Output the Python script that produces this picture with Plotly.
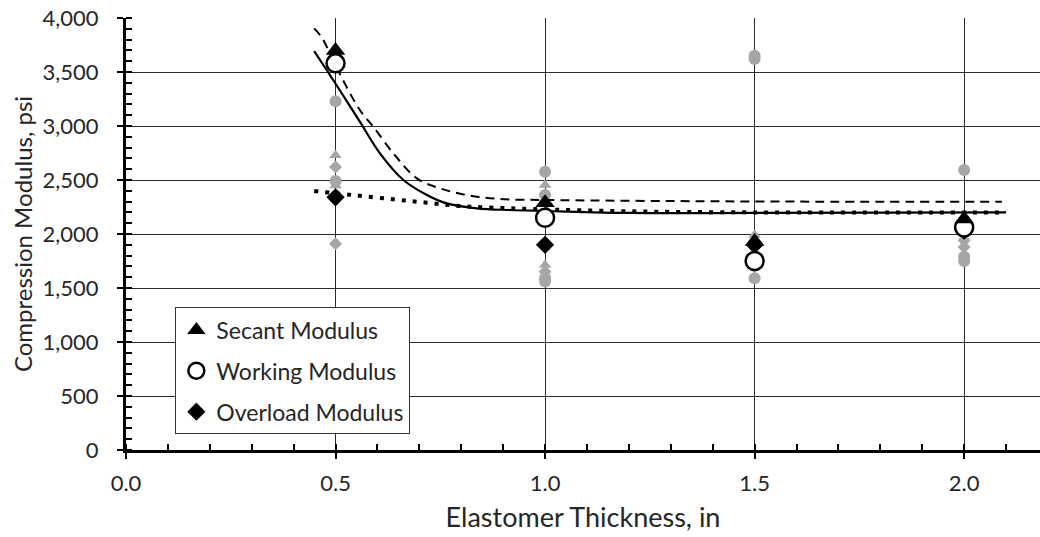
import plotly.graph_objects as go

# ---- data ----
thickness = [0.5, 1.0, 1.5, 2.0]
secant_mean = [3700, 2290, 1930, 2140]
working_mean = [3580, 2150, 1750, 2060]
overload_mean = [2340, 1900, 1900, 2030]

# individual specimen values (grey)
secant_ind_x = [0.5, 0.5, 1.0, 1.0, 1.5, 2.0]
secant_ind_y = [2730, 2450, 2454, 1713, 1990, 1960]
working_ind_x = [0.5, 0.5, 1.0, 1.0, 1.0, 1.0, 1.5, 1.5, 1.5, 2.0, 2.0, 2.0]
working_ind_y = [3230, 2490, 2577, 2361, 1590, 1560, 3650, 3620, 1590, 2593, 1790, 1750]
overload_ind_x = [0.5, 0.5, 1.0, 1.5, 2.0, 2.0]
overload_ind_y = [2620, 1910, 1650, 1700, 1880, 1940]

# trend curves
secant_fit_x = [0.449, 0.468, 0.5, 0.558, 0.59, 0.638, 0.694, 0.749, 0.813, 0.893, 1.004, 1.3, 1.6, 2.09]
secant_fit_y = [3904, 3815, 3560, 3148, 2994, 2747, 2515, 2423, 2361, 2324, 2315, 2305, 2300, 2299]
working_fit_x = [0.449, 0.482, 0.499, 0.558, 0.606, 0.662, 0.718, 0.765, 0.837, 0.916, 1.004, 1.2, 1.5, 2.1]
working_fit_y = [3694, 3500, 3398, 3040, 2747, 2500, 2361, 2284, 2238, 2222, 2213, 2195, 2195, 2200]
overload_fit_x = [0.449, 0.54, 0.638, 0.718, 0.797, 0.877, 0.972, 1.2, 1.5, 2.1]
overload_fit_y = [2398, 2361, 2321, 2290, 2259, 2244, 2231, 2210, 2200, 2200]

x_ticks = [0.0, 0.5, 1.0, 1.5, 2.0]
y_ticks = [0, 500, 1000, 1500, 2000, 2500, 3000, 3500, 4000]

GREY = "#a6a6a6"
TXT = "#262626"
FONT = "Lato"

fig = go.Figure()

# grey individual points
fig.add_trace(go.Scatter(x=working_ind_x, y=working_ind_y, mode="markers",
                         marker=dict(symbol="circle", size=12, color=GREY),
                         showlegend=False, hoverinfo="skip"))
fig.add_trace(go.Scatter(x=secant_ind_x, y=secant_ind_y, mode="markers",
                         marker=dict(symbol="triangle-up", size=11, color=GREY),
                         showlegend=False, hoverinfo="skip"))
fig.add_trace(go.Scatter(x=overload_ind_x, y=overload_ind_y, mode="markers",
                         marker=dict(symbol="diamond", size=10, color=GREY),
                         showlegend=False, hoverinfo="skip"))

# trend lines
fig.add_trace(go.Scatter(x=secant_fit_x, y=secant_fit_y, mode="lines", line_shape="spline",
                         line=dict(color="black", width=2, dash="9px,6px"),
                         showlegend=False, hoverinfo="skip"))
fig.add_trace(go.Scatter(x=working_fit_x, y=working_fit_y, mode="lines", line_shape="spline",
                         line=dict(color="black", width=2.2),
                         showlegend=False, hoverinfo="skip"))
fig.add_trace(go.Scatter(x=overload_fit_x, y=overload_fit_y, mode="lines", line_shape="spline",
                         line=dict(color="black", width=4, dash="4px,7px"),
                         showlegend=False, hoverinfo="skip"))

# mean values
fig.add_trace(go.Scatter(x=thickness, y=overload_mean, mode="markers", name="Overload Modulus",
                         legendgroup="c", legendrank=3,
                         marker=dict(symbol="diamond", size=14, color="black")))
fig.add_trace(go.Scatter(x=thickness, y=working_mean, mode="markers", name="Working Modulus",
                         legendgroup="b", legendrank=2,
                         marker=dict(symbol="circle", size=18, color="white",
                                     line=dict(color="black", width=2.5))))
fig.add_trace(go.Scatter(x=thickness, y=secant_mean, mode="markers", name="Secant Modulus",
                         legendgroup="a", legendrank=1,
                         marker=dict(symbol="triangle-up", size=17, color="black")))

fig.update_layout(
    width=1040, height=537,
    margin=dict(l=126, r=0, t=18, b=87),
    paper_bgcolor="white", plot_bgcolor="white",
    font=dict(family=FONT, size=22, color=TXT),
    legend=dict(x=0.054, y=0.33, xanchor="left", yanchor="top",
                bgcolor="white", bordercolor="#333333", borderwidth=1,
                font=dict(family=FONT, size=23, color=TXT),
                tracegroupgap=8, traceorder="grouped"),
    xaxis=dict(range=[0, 2.181], tickvals=x_ticks, ticktext=[f"{v:.1f}" for v in x_ticks],
               tickfont=dict(size=22),
               showgrid=True, gridcolor="#2b2b2b", gridwidth=1,
               showline=True, linecolor="black", linewidth=3,
               ticks="outside", ticklen=6, tickwidth=2, tickcolor="black",
               ticklabelstandoff=6,
               minor=dict(dtick=0.1, ticks="inside", ticklen=6, tickwidth=2,
                          tickcolor="black", showgrid=False),
               zeroline=False,
               title=dict(text="Elastomer Thickness, in", standoff=13,
                          font=dict(family=FONT, size=27, color=TXT))),
    yaxis=dict(range=[0, 4000], tickvals=y_ticks, ticktext=[f"{v:,}" for v in y_ticks],
               tickfont=dict(size=22),
               showgrid=True, gridcolor="#2b2b2b", gridwidth=1,
               showline=True, linecolor="black", linewidth=3,
               ticks="outside", ticklen=6, tickwidth=2, tickcolor="black",
               ticklabelstandoff=14,
               minor=dict(dtick=100, ticks="inside", ticklen=6, tickwidth=2,
                          tickcolor="black", showgrid=False),
               zeroline=False,
               title=dict(text="Compression Modulus, psi", standoff=4,
                          font=dict(family=FONT, size=24, color=TXT))),
)

fig.write_html("out.html")
